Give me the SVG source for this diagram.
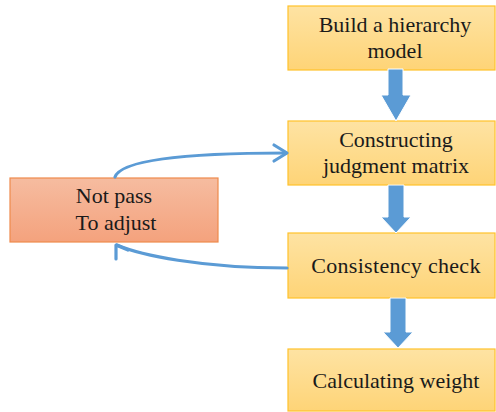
<svg xmlns="http://www.w3.org/2000/svg" width="496" height="412" viewBox="0 0 496 412">
<defs>
<linearGradient id="gy" x1="0" y1="0" x2="0" y2="1">
<stop offset="0" stop-color="#fee3a3"/>
<stop offset="1" stop-color="#fed477"/>
</linearGradient>
<linearGradient id="gs" x1="0" y1="0" x2="0" y2="1">
<stop offset="0" stop-color="#f6bca0"/>
<stop offset="1" stop-color="#f4a27d"/>
</linearGradient>
</defs>
<style>
.box{fill:url(#gy);stroke:#ffc22a;stroke-width:1.2}
.sbox{fill:url(#gs);stroke:#ef8a4c;stroke-width:1.2}
.t{font-family:'Liberation Serif','Times New Roman',serif;font-size:22px;fill:#1a1a1a;text-anchor:middle}
.blk{fill:#5b9bd5;stroke:#ffffff;stroke-width:1}
.cur{fill:none;stroke:#5b9bd5;stroke-width:3.2;stroke-linecap:round;stroke-linejoin:round}
</style>
<g id="n1">
<rect class="box" x="288" y="6" width="207" height="64"/>
<text class="t" x="395" y="32">Build a hierarchy</text>
<text class="t" x="395" y="58">model</text>
</g>
<g id="n2">
<rect class="box" x="288" y="121" width="207" height="64"/>
<text class="t" x="396" y="147">Constructing</text>
<text class="t" x="396" y="173">judgment matrix</text>
</g>
<g id="n3">
<rect class="box" x="288" y="233" width="207" height="65"/>
<text class="t" x="396" y="273" letter-spacing="0.3">Consistency check</text>
</g>
<g id="n4">
<rect class="box" x="288" y="349" width="207" height="62"/>
<text class="t" x="396" y="388">Calculating weight</text>
</g>
<g id="n5">
<rect class="sbox" x="10" y="178" width="208" height="64"/>
<text class="t" x="114" y="203">Not pass</text>
<text class="t" x="116" y="230">To adjust</text>
</g>
<g id="connectors">
<path class="blk" d="M388,69 L403,69 L403,95 L411,95 L396,121 L381,95 L388,95 Z"/>
<path class="blk" d="M388,185 L404,185 L404,217 L411,217 L396,233 L381,217 L388,217 Z"/>
<path class="blk" d="M390,298 L406,298 L406,332 L413,332 L398,348 L383,332 L390,332 Z"/>
<path class="cur" d="M115,177 C122,158 200,153 286,153"/>
<path class="cur" d="M274,145 L287,153 L274,161"/>
<path class="cur" d="M287,268 C200,268 140,255 117,245"/>
<path class="cur" d="M116,259 L116,245 L128,250"/>
</g>
</svg>
